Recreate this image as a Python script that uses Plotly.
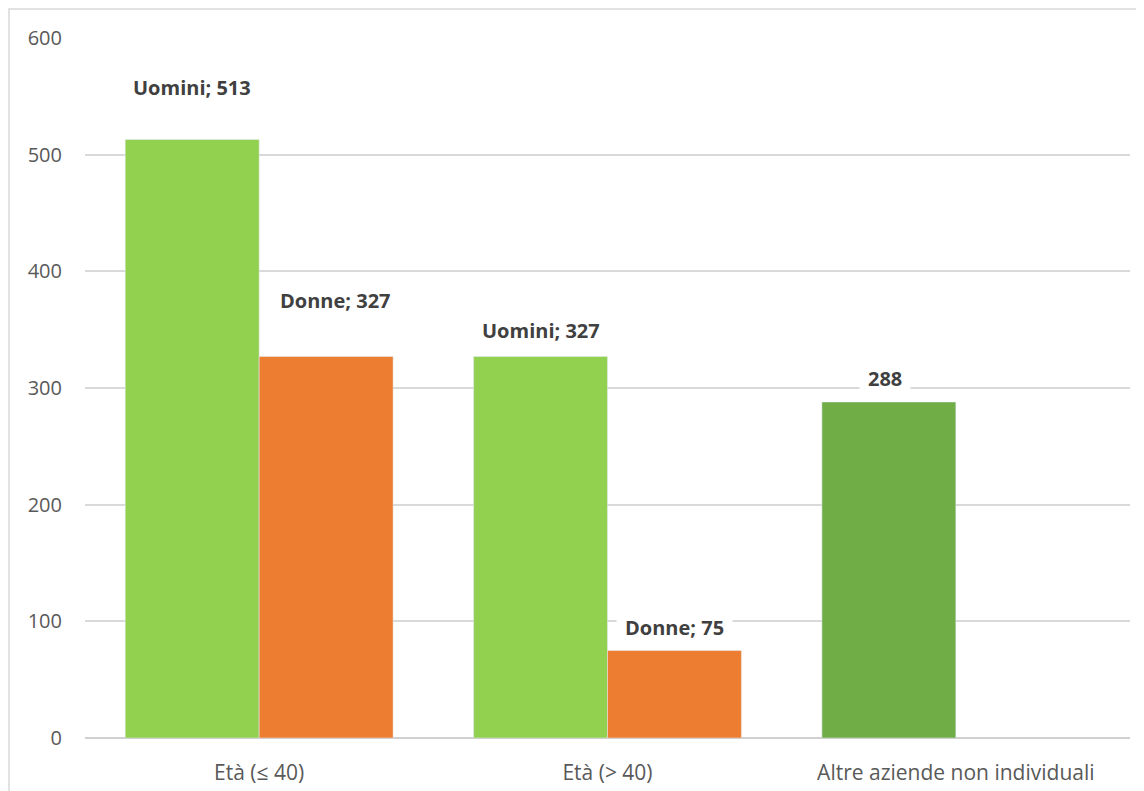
import plotly.graph_objects as go

# ---- data ----
categories = ["Età (≤ 40)", "Età (> 40)", "Altre aziende non individuali"]
uomini = [513, 327, None]
donne = [327, 75, None]
altre = [None, None, 288]
y_ticks = [0, 100, 200, 300, 400, 500, 600]

# ---- style ----
PAGE_OFF = 8  # default body margin of the html page
W, H = 1144 - PAGE_OFF, 791 - PAGE_OFF
ML, MR, MT, MB = 85 - PAGE_OFF, 14, 38 - PAGE_OFF, 53
BARGAP = 0.231
C_UOMINI = "#92D050"
C_DONNE = "#ED7D31"
C_ALTRE = "#70AD47"
FONT = "'Open Sans', sans-serif"

fig = go.Figure()
fig.add_trace(go.Bar(name="Uomini", x=categories, y=uomini, marker_color=C_UOMINI,
                     offsetgroup="a", hoverinfo="skip"))
fig.add_trace(go.Bar(name="Donne", x=categories, y=donne, marker_color=C_DONNE,
                     offsetgroup="b", hoverinfo="skip"))
fig.add_trace(go.Bar(name="Altre", x=categories, y=altre, marker_color=C_ALTRE,
                     offsetgroup="a", hoverinfo="skip"))

# data labels (Excel-style, manually lifted above the bars, white box)
half = (1 - BARGAP) / 4
label_shift = {"Uomini": [52, 26, 0], "Donne": [56, 23, 0], "Altre": [0, 0, 24]}
label_dx = {"Uomini": [0, 0, 0], "Donne": [9, 0, 0], "Altre": [0, 0, -4]}
series = [("Uomini", uomini, -half, True), ("Donne", donne, half, True), ("Altre", altre, -half, False)]
for name, vals, off, show_name in series:
    for i, v in enumerate(vals):
        if v is None:
            continue
        txt = f"{name}; {v}" if show_name else f"{v}"
        fig.add_annotation(x=i + off, y=v, xref="x", yref="y", text=f"<b>{txt}</b>",
                           showarrow=False, yanchor="middle", yshift=label_shift[name][i],
                           xshift=label_dx[name][i],
                           bgcolor="white", borderpad=8,
                           font=dict(family=FONT, size=20, color="#404040"))

# outer chart border
pw, ph = W - ML - MR, H - MT - MB
fig.add_shape(type="rect", xref="paper", yref="paper",
              x0=(9 - PAGE_OFF - ML) / pw, x1=(W + 20 - ML) / pw,
              y0=-(MB + 20) / ph, y1=1 + (MT - (9 - PAGE_OFF)) / ph,
              line=dict(color="#D9D9D9", width=1.5), layer="below")

fig.update_layout(
    width=W, height=H,
    margin=dict(l=ML, r=MR, t=MT, b=MB),
    barmode="group", bargap=BARGAP, bargroupgap=0,
    showlegend=False,
    plot_bgcolor="white", paper_bgcolor="white",
    font=dict(family=FONT, size=20, color="#595959"),
)
fig.update_xaxes(showgrid=False, showline=False, ticks="", ticklabelstandoff=20,
                 automargin=False, tickfont=dict(size=21, color="#595959"))
fig.update_yaxes(range=[0, 600], tickvals=y_ticks, showgrid=True, gridcolor="#D9D9D9",
                 gridwidth=1.5, zeroline=True, zerolinecolor="#D0D0D0", zerolinewidth=2,
                 showline=False, ticks="", ticklabelstandoff=22, automargin=False,
                 tickfont=dict(size=20, color="#595959"))

fig.write_html("out.html")
